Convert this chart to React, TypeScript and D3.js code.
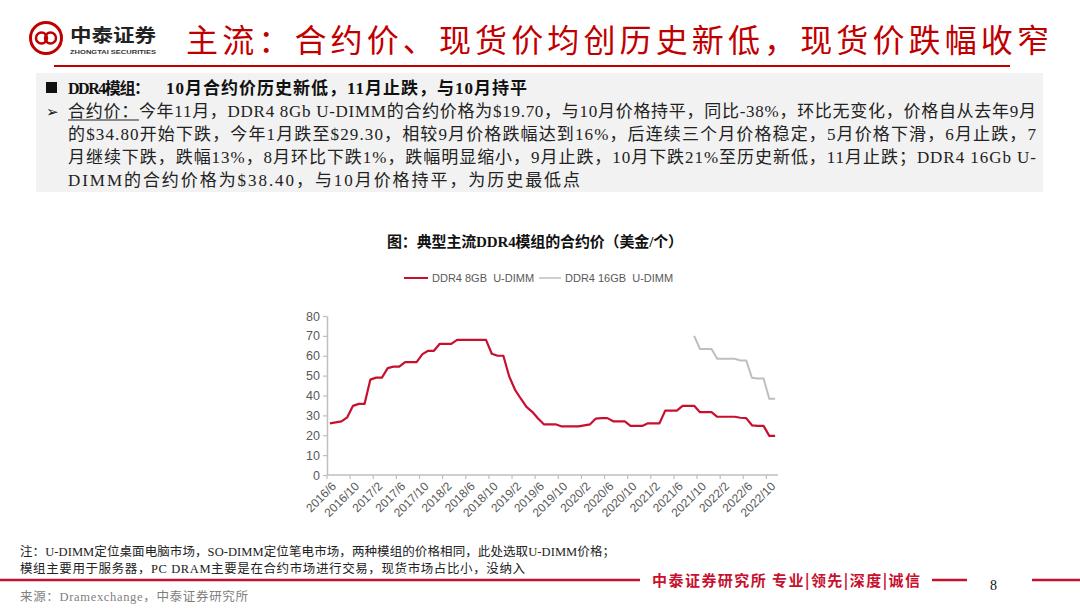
import React, {useEffect, useRef} from 'react';
import * as d3 from 'd3';

// monthly contract price, USD per module
const months = [
  '2016/6', '2016/7', '2016/8', '2016/9', '2016/10', '2016/11', '2016/12',
  '2017/1', '2017/2', '2017/3', '2017/4', '2017/5', '2017/6', '2017/7', '2017/8', '2017/9', '2017/10', '2017/11', '2017/12',
  '2018/1', '2018/2', '2018/3', '2018/4', '2018/5', '2018/6', '2018/7', '2018/8', '2018/9', '2018/10', '2018/11', '2018/12',
  '2019/1', '2019/2', '2019/3', '2019/4', '2019/5', '2019/6', '2019/7', '2019/8', '2019/9', '2019/10', '2019/11', '2019/12',
  '2020/1', '2020/2', '2020/3', '2020/4', '2020/5', '2020/6', '2020/7', '2020/8', '2020/9', '2020/10', '2020/11', '2020/12',
  '2021/1', '2021/2', '2021/3', '2021/4', '2021/5', '2021/6', '2021/7', '2021/8', '2021/9', '2021/10', '2021/11', '2021/12',
  '2022/1', '2022/2', '2022/3', '2022/4', '2022/5', '2022/6', '2022/7', '2022/8', '2022/9', '2022/10', '2022/11',
];

const ddr4_8gb = [
  26, 26.5, 27, 29, 34.8, 35.8, 35.8,
  48, 49, 49, 53.8, 54.5, 54.5, 56.8, 56.8, 56.8, 60.8, 62.5, 62.5,
  66, 66, 66, 68, 68, 68, 68, 68, 68, 61, 60, 60,
  49.7, 43, 38.5, 34.3, 31.8, 28.4, 25.5, 25.5, 25.5, 24.5, 24.5, 24.5,
  24.5, 25, 25.5, 28.4, 28.6, 28.6, 27, 27, 27, 24.7, 24.7, 24.7,
  26, 26, 26, 32.4, 32.4, 32.4, 34.8, 34.8, 34.8, 31.6, 31.6, 31.6,
  29.3, 29.3, 29.3, 29.3, 28.8, 28.6, 25, 24.7, 24.7, 19.7, 19.7,
];

// 16GB series only starts in 2021/9
const start16 = '2021/9';
const ddr4_16gb = [70, 63.4, 63.4, 63.4, 58.5, 58.5, 58.5, 58.5, 57.6, 57.6, 48.9, 48.6, 48.6, 38.4, 38.4];

const yTicks = [0, 10, 20, 30, 40, 50, 60, 70, 80];
const xTickLabels = ['2016/6', '2016/10', '2017/2', '2017/6', '2017/10', '2018/2', '2018/6', '2018/10', '2019/2', '2019/6',
  '2019/10', '2020/2', '2020/6', '2020/10', '2021/2', '2021/6', '2021/10', '2022/2', '2022/6', '2022/10'];

const seriesNames = ['DDR4 8GB  U-DIMM', 'DDR4 16GB  U-DIMM'];

const titleText = '主流：合约价、现货价均创历史新低，现货价跌幅收窄';
const boxHead = '10月合约价历史新低，11月止跌，与10月持平';
const boxLines = [
  '今年11月，DDR4 8Gb U-DIMM的合约价格为$19.70，与10月价格持平，同比-38%，环比无变化，价格自从去年9月',
  '的$34.80开始下跌，今年1月跌至$29.30，相较9月价格跌幅达到16%，后连续三个月价格稳定，5月价格下滑，6月止跌，7',
  '月继续下跌，跌幅13%，8月环比下跌1%，跌幅明显缩小，9月止跌，10月下跌21%至历史新低，11月止跌；DDR4 16Gb U-',
  'DIMM的合约价格为$38.40，与10月价格持平，为历史最低点',
];
const notes = [
  '注：U-DIMM定位桌面电脑市场，SO-DIMM定位笔电市场，两种模组的价格相同，此处选取U-DIMM价格；',
  '模组主要用于服务器，PC DRAM主要是在合约市场进行交易，现货市场占比小，没纳入',
];

const RED = '#c8102e';
const TITLE_RED = '#c00000';
const GRAY_LINE = '#bfbfbf';
const AXIS_TEXT = '#595959';
const CJK = '"Liberation Serif", "Noto Sans CJK SC", serif';
const SANS = '"Liberation Sans", Arial, sans-serif';

const plot = {left: 327, right: 778, top: 316, bottom: 475};

function App() {
  const axisRef = useRef<SVGGElement>(null);

  const x = d3.scaleBand().domain(months).range([plot.left, plot.right]).paddingInner(0).paddingOuter(0);
  const bw = x.bandwidth();
  const y = d3.scaleLinear().domain([0, 80]).range([plot.bottom, plot.top]);

  const data8 = months.map((m, i) => ({m, v: ddr4_8gb[i]}));
  const off = months.indexOf(start16);
  const data16 = ddr4_16gb.map((v, i) => ({m: months[off + i], v}));

  const line = d3.line<{m: string, v: number}>()
    .x(d => (x(d.m) as number) + bw / 2)
    .y(d => y(d.v));

  useEffect(() => {
    const g = d3.select(axisRef.current);
    g.selectAll('*').remove();

    const yAxis = g.append('g')
      .attr('transform', `translate(${plot.left},0)`)
      .call(d3.axisLeft(y).tickValues(yTicks).tickSize(4).tickPadding(3).tickSizeOuter(0));
    yAxis.select('.domain').attr('stroke', GRAY_LINE).attr('stroke-width', 1.5);
    yAxis.selectAll('.tick line').attr('stroke', GRAY_LINE).attr('stroke-width', 1.2);
    yAxis.selectAll('.tick text')
      .attr('fill', AXIS_TEXT)
      .attr('font-size', 12.5)
      .attr('font-family', SANS);

    // category axis, ticks sit between months
    const xa = g.append('g');
    xa.append('line')
      .attr('x1', plot.left).attr('x2', plot.right)
      .attr('y1', plot.bottom).attr('y2', plot.bottom)
      .attr('stroke', GRAY_LINE).attr('stroke-width', 1.5);
    const ticks = xa.selectAll('g.xt')
      .data(xTickLabels)
      .enter()
      .append('g')
      .attr('class', 'xt');
    ticks.append('line')
      .attr('x1', d => x(d) as number).attr('x2', d => x(d) as number)
      .attr('y1', plot.bottom).attr('y2', plot.bottom + 4)
      .attr('stroke', GRAY_LINE).attr('stroke-width', 1.2);
    ticks.append('text')
      .attr('transform', d => `translate(${(x(d) as number) + bw / 2 + 4},${plot.bottom + 9}) rotate(-45)`)
      .attr('text-anchor', 'end')
      .attr('dy', '0.35em')
      .attr('fill', AXIS_TEXT)
      .attr('font-size', 12)
      .attr('font-family', SANS)
      .text(d => d);
  });

  return (
    <div style={{position: 'absolute', left: 0, top: 0}}>
      <svg width={1080} height={608} viewBox="0 0 1080 608" style={{display: 'block', background: '#fff'}}>
        {/* logo */}
        <g>
          <circle cx={46} cy={38} r={15.5} fill="none" stroke={TITLE_RED} strokeWidth={3}/>
          <circle cx={41.5} cy={38} r={5.5} fill="none" stroke={TITLE_RED} strokeWidth={2.5}/>
          <circle cx={50.5} cy={38} r={5.5} fill="none" stroke={TITLE_RED} strokeWidth={2.5}/>
          <text x={70} y={42} fontSize={18} fontWeight={700} fill="#222" fontFamily='"Noto Sans CJK SC"'
                textLength={86} lengthAdjust="spacingAndGlyphs">中泰证券</text>
          <text x={70} y={53.5} fontSize={6} fontWeight={700} fill="#333" fontFamily={SANS}
                textLength={86} lengthAdjust="spacingAndGlyphs">ZHONGTAI SECURITIES</text>
        </g>
        <text x={186} y={52} fontSize={32} fill={TITLE_RED} fontFamily='"Noto Sans CJK SC"'
              textLength={863} lengthAdjust="spacing">{titleText}</text>
        <line x1={54} x2={1010} y1={66} y2={66} stroke={TITLE_RED} strokeWidth={2}/>

        {/* summary box */}
        <rect x={36} y={73} width={1007} height={119} fill="#f2f2f2"/>
        <rect x={46} y={82} width={11} height={11} fill="#111"/>
        <text x={68} y={94} fontSize={16} fontWeight={700} fill="#111" fontFamily={CJK}
              textLength={82} lengthAdjust="spacing">DDR4模组：</text>
        <text x={166} y={94} fontSize={17} fontWeight={700} fill="#111" fontFamily={CJK}
              textLength={361} lengthAdjust="spacing">{boxHead}</text>
        <text x={46} y={117} fontSize={15} fill="#111" fontFamily={CJK}>➢</text>
        <text x={68} y={117} fontSize={17} fill="#222" fontFamily={CJK}
              textLength={968} lengthAdjust="spacing">
          <tspan>合约价：</tspan>{boxLines[0]}
        </text>
        <line x1={68} x2={139} y1={120} y2={120} stroke="#222" strokeWidth={1}/>
        <text x={68} y={140} fontSize={17} fill="#222" fontFamily={CJK}
              textLength={968} lengthAdjust="spacing">{boxLines[1]}</text>
        <text x={68} y={163} fontSize={17} fill="#222" fontFamily={CJK}
              textLength={968} lengthAdjust="spacing">{boxLines[2]}</text>
        <text x={68} y={186} fontSize={17} fill="#222" fontFamily={CJK}
              textLength={512} lengthAdjust="spacing">{boxLines[3]}</text>

        {/* chart title + legend */}
        <text x={387} y={247} fontSize={15} fontWeight={700} fill="#111" fontFamily={CJK}
              textLength={296} lengthAdjust="spacing">图：典型主流DDR4模组的合约价（美金/个）</text>
        <line x1={404} x2={428} y1={278} y2={278} stroke={RED} strokeWidth={2}/>
        <text x={432} y={282} fontSize={11} fill={AXIS_TEXT} fontFamily={SANS} style={{whiteSpace: 'pre'}}>{seriesNames[0]}</text>
        <line x1={539} x2={561} y1={278} y2={278} stroke={GRAY_LINE} strokeWidth={1.5}/>
        <text x={565} y={282} fontSize={11} fill={AXIS_TEXT} fontFamily={SANS} style={{whiteSpace: 'pre'}}>{seriesNames[1]}</text>

        {/* plot */}
        <g ref={axisRef}/>
        <path d={line(data16) || ''} fill="none" stroke={GRAY_LINE} strokeWidth={2}/>
        <path d={line(data8) || ''} fill="none" stroke={RED} strokeWidth={2.2} strokeLinejoin="round"/>

        {/* notes and footer */}
        <text x={20} y={556} fontSize={12.5} fill="#222" fontFamily={CJK}
              textLength={595} lengthAdjust="spacing">{notes[0]}</text>
        <text x={20} y={573} fontSize={12.5} fill="#222" fontFamily={CJK}
              textLength={505} lengthAdjust="spacing">{notes[1]}</text>
        <line x1={0} x2={640} y1={580} y2={580} stroke={RED} strokeWidth={2.5}/>
        <text x={652} y={586} fontSize={15} fontWeight={700} fill={RED} fontFamily='"Noto Sans CJK SC"'
              textLength={268} lengthAdjust="spacing">中泰证券研究所 专业|领先|深度|诚信</text>
        <line x1={932} x2={967} y1={580} y2={580} stroke={RED} strokeWidth={2.5}/>
        <text x={990} y={590} fontSize={14} fill="#111" fontFamily='"Liberation Serif", serif'>8</text>
        <line x1={1032} x2={1080} y1={580} y2={580} stroke={RED} strokeWidth={2.5}/>
        <text x={20} y={601} fontSize={12.5} fill="#7f7f7f" fontFamily={CJK}
              textLength={228} lengthAdjust="spacing">来源：Dramexchange，中泰证券研究所</text>
      </svg>
    </div>
  );
}

export default App;
